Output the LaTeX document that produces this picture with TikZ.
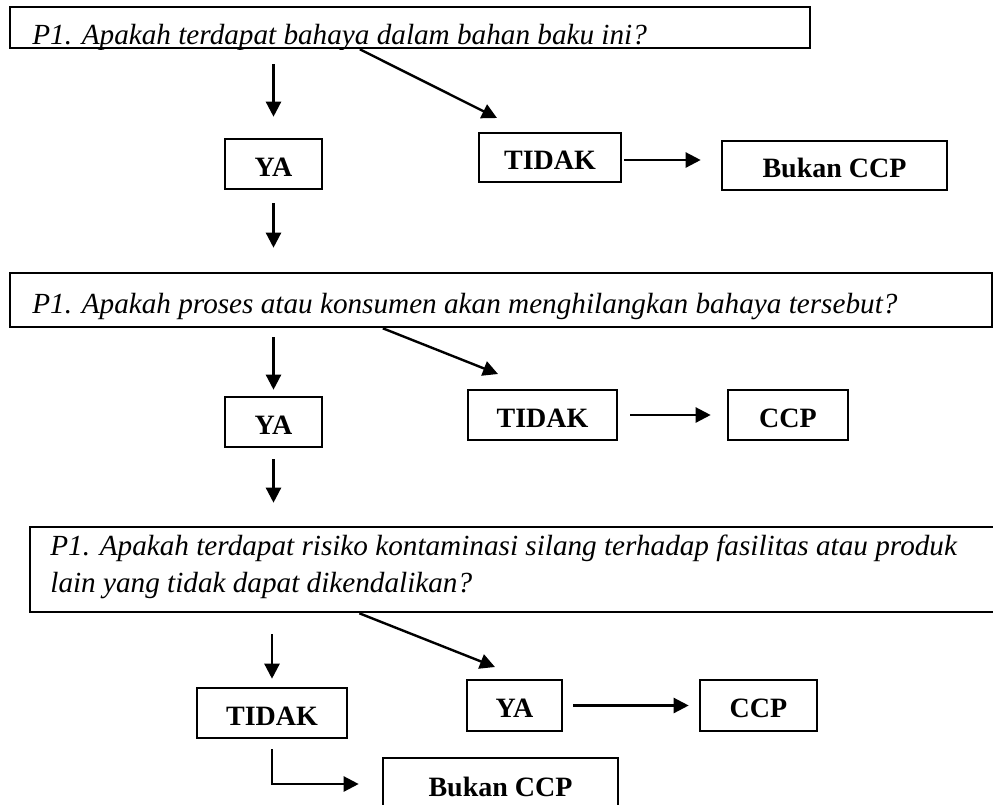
\documentclass[tikz,border=0pt]{standalone}
\usepackage{fontspec}
\setmainfont{Liberation Serif}
\usetikzlibrary{arrows.meta,calc}

\tikzset{
  box/.style={draw, line width=1.3pt, inner sep=0pt, text height=12pt, text depth=0pt,
    font=\fontsize{14}{17}\selectfont\bfseries},
  qtext/.style={anchor=base west, inner sep=0pt, font=\fontsize{14.6}{17}\selectfont\itshape},
  arr/.style={line width=1.2pt, -{Triangle[length=7.5pt,width=7.5pt]}},
}

\begin{document}
\begin{tikzpicture}[x=0.5pt,y=-0.5pt]
\useasboundingbox (0,0) rectangle (993,805);
\clip (0,0) rectangle (993,805);

% question 1 and its answers
\node[box, minimum width=400pt, minimum height=20.5pt] (q1) at (410,27.5) {};
\begin{scope}
  \clip (q1.south west) rectangle (q1.north east);
  \node[qtext] (q1t) at (32,44) {P1. Apakah terdapat bahaya dalam bahan baku ini?};
\end{scope}
\node[box, minimum width=48.5pt, minimum height=25pt] (ya1) at (273.5,164) {YA};
\node[box, minimum width=71pt, minimum height=24.5pt] (td1) at (550,157.5) {TIDAK};
\node[box, minimum width=112.5pt, minimum height=24.5pt] (bk1) at (834.5,165.5) {Bukan CCP};

% question 2 and its answers
\node[box, minimum width=491pt, minimum height=27pt] (q2) at (501,300) {};
\node[qtext] (q2t) at (32,313) {P1. Apakah proses atau konsumen akan menghilangkan bahaya tersebut?};
\node[box, minimum width=48.5pt, minimum height=25pt] (ya2) at (273.5,422) {YA};
\node[box, minimum width=74.5pt, minimum height=25pt] (td2) at (542.5,415) {TIDAK};
\node[box, minimum width=60pt, minimum height=25pt] (cc2) at (788,415) {CCP};

% question 3 and its answers
\node[box, minimum width=485pt, minimum height=42.5pt] (q3) at (515,569.5) {};
\node[qtext] (q3a) at (50,555) {P1. Apakah terdapat risiko kontaminasi silang terhadap fasilitas atau produk};
\node[qtext] (q3b) at (50,592) {lain yang tidak dapat dikendalikan?};
\node[box, minimum width=75pt, minimum height=25pt] (td3) at (272,713) {TIDAK};
\node[box, minimum width=47.5pt, minimum height=25.5pt] (ya3) at (514.5,705.5) {YA};
\node[box, minimum width=58.5pt, minimum height=25.5pt] (cc3) at (758.5,705.5) {CCP};
\node[box, minimum width=117.5pt, minimum height=26pt] (bk3) at (500.5,784) {Bukan CCP};

% free ends of the slanted arrows
\coordinate (d1e) at (497,118);
\coordinate (d2e) at (498,374);
\coordinate (d3e) at (495,667);

% vertical arrows
\draw[arr, shorten <=7.5pt, shorten >=10.5pt] (q1.south -| ya1.north) -- (ya1.north);
\draw[arr, shorten <=6.5pt, shorten >=12pt] (ya1.south) -- (ya1.south |- q2.north);
\draw[arr, shorten <=4.5pt, shorten >=3pt] (q2.south -| ya2.north) -- (ya2.north);
\draw[arr, shorten <=5.5pt, shorten >=11.5pt] (ya2.south) -- (ya2.south |- q3.north);
\draw[arr, shorten <=10.5pt, shorten >=4pt] (q3.south -| td3.north) -- (td3.north);

% slanted arrows
\draw[arr] ($(q1.south west)!0.4375!(q1.south east)$) -- (d1e);
\draw[arr] ($(q2.south west)!0.38!(q2.south east)$) -- (d2e);
\draw[arr] ($(q3.south west)!0.34!(q3.south east)$) -- (d3e);

% horizontal arrows
\draw[arr, shorten <=1pt, shorten >=10pt] (td1.east |- 0,160) -- (bk1.west |- 0,160);
\draw[arr, shorten <=6pt, shorten >=8pt] (td2.east) -- (cc2.west);
\draw[arr, shorten <=5pt, shorten >=5pt] (ya3.east) -- (cc3.west);

% elbow to the last box
\draw[arr, shorten <=5pt, shorten >=11.5pt] (td3.south) |- (bk3.west);
\end{tikzpicture}
\end{document}
